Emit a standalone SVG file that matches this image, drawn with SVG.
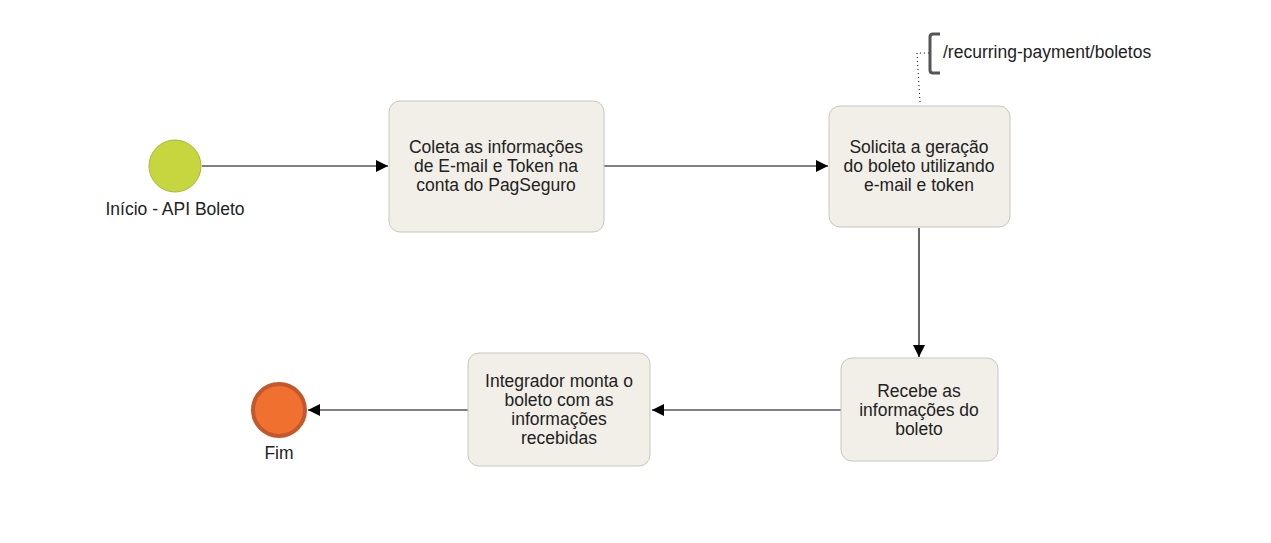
<svg xmlns="http://www.w3.org/2000/svg" width="1271" height="543" viewBox="0 0 1271 543">
<style>
.box{fill:#f1efe8;stroke:#c9c6bb;stroke-width:1}
text{font-family:"Liberation Sans",Arial,sans-serif;font-size:17.5px;fill:#222;text-anchor:middle}
.edge{stroke:#000;stroke-width:1.2;fill:none}
</style>
<defs>
<marker id="arr" viewBox="0 0 10 10" refX="10" refY="5" markerWidth="12" markerHeight="12" markerUnits="userSpaceOnUse" orient="auto">
<path d="M0,0 L10,5 L0,10 Z" fill="#000"/>
</marker>
</defs>
<rect width="1271" height="543" fill="#fff"/>
<g id="connectors">
<line class="edge" x1="202" y1="166" x2="388" y2="166" marker-end="url(#arr)"/>
<line class="edge" x1="604" y1="166" x2="828" y2="166" marker-end="url(#arr)"/>
<line class="edge" x1="919" y1="228" x2="919" y2="357" marker-end="url(#arr)"/>
<line class="edge" x1="841" y1="410" x2="652" y2="410" marker-end="url(#arr)"/>
<line class="edge" x1="468" y1="410" x2="308" y2="410" marker-end="url(#arr)"/>
<path d="M920,102 L917,53 L929,53" stroke="#000" stroke-width="1" stroke-dasharray="1,3" fill="none"/>
</g>
<g id="start">
<circle cx="175" cy="166" r="26" fill="#c6d63f" stroke="#a9b83a" stroke-width="1"/>
<text x="175" y="215">Início - API Boleto</text>
</g>
<g id="coleta">
<rect class="box" x="389" y="101" width="215" height="131" rx="11"/>
<text x="496" y="153">Coleta as informações</text>
<text x="496" y="172">de E-mail e Token na</text>
<text x="496" y="191">conta do PagSeguro</text>
</g>
<g id="solicita">
<rect class="box" x="829" y="106" width="181" height="121" rx="11"/>
<text x="919" y="153">Solicita a geração</text>
<text x="919" y="172">do boleto utilizando</text>
<text x="919" y="191">e-mail e token</text>
</g>
<g id="annotation">
<path d="M940,34 L933,34 Q930,34 930,37 L930,70 Q930,73 933,73 L940,73" stroke="#555" stroke-width="3" fill="none"/>
<text x="943" y="58" style="text-anchor:start">/recurring-payment/boletos</text>
</g>
<g id="recebe">
<rect class="box" x="841" y="358" width="157" height="103" rx="11"/>
<text x="919" y="397">Recebe as</text>
<text x="919" y="416">informações do</text>
<text x="919" y="435">boleto</text>
</g>
<g id="integrador">
<rect class="box" x="468" y="353" width="182" height="113" rx="11"/>
<text x="559" y="387">Integrador monta o</text>
<text x="559" y="406">boleto com as</text>
<text x="559" y="425">informações</text>
<text x="559" y="444">recebidas</text>
</g>
<g id="fim">
<circle cx="279" cy="410" r="26" fill="#f07030" stroke="#c2582c" stroke-width="4"/>
<text x="279" y="459">Fim</text>
</g>
</svg>
